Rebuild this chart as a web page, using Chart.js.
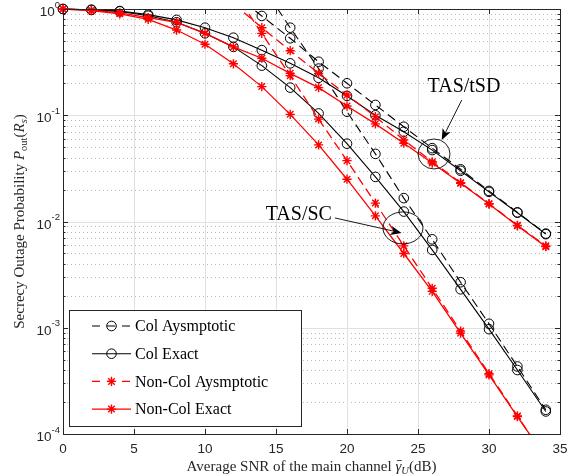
<!DOCTYPE html>
<html>
<head>
<meta charset="utf-8">
<script src="https://cdn.jsdelivr.net/npm/chart.js@4.4.0/dist/chart.umd.min.js"></script>
<style>
  html, body { margin: 0; padding: 0; background: #fff; }
</style>
</head>
<body>
<canvas id="chart" width="575" height="476"></canvas>
<script>
// SNR points (dB)
const snr = [0, 2, 4, 6, 8, 10, 12, 14, 16, 18, 20, 22, 24, 26, 28, 30, 32, 34];

// TAS/tSD curves
const tsdColExact = [1.0, 0.985, 0.957, 0.885, 0.79, 0.667, 0.537, 0.41, 0.308, 0.225, 0.152, 0.100, 0.070, 0.047, 0.030, 0.019, 0.0121, 0.0076];
const tsdColAsym = [null, null, null, null, null, null, 1.39, 0.86, 0.53, 0.319, 0.20, 0.125, 0.078, 0.049, 0.031, 0.0194, 0.0122, 0.0077];
const tsdNonColExact = [1.0, 0.975, 0.92, 0.83, 0.75, 0.59, 0.44, 0.344, 0.248, 0.182, 0.122, 0.083, 0.0545, 0.0355, 0.0229, 0.0146, 0.0091, 0.0058];
const tsdNonColAsym = [null, null, null, null, null, null, 1.12, 0.667, 0.405, 0.248, 0.155, 0.097, 0.0586, 0.0365, 0.0232, 0.0147, 0.0092, 0.0059];

// TAS/SC curves
const scColExact = [1.0, 0.98, 0.95, 0.865, 0.75, 0.59, 0.44, 0.293, 0.182, 0.104, 0.054, 0.0263, 0.0124, 0.0054, 0.0023, 0.00097, 0.0004, 0.000163];
const scColAsym = [null, null, null, null, null, null, null, 1.67, 0.667, 0.275, 0.108, 0.0433, 0.0166, 0.0068, 0.00268, 0.00109, 0.000432, 0.000169];
const scNonColExact = [1.0, 0.965, 0.90, 0.80, 0.634, 0.466, 0.305, 0.186, 0.102, 0.0526, 0.025, 0.0113, 0.005, 0.0022, 0.00089, 0.00036, 0.000146, 0.00006];
const scNonColAsym = [null, null, null, null, null, null, 1.48, 0.59, 0.236, 0.092, 0.0374, 0.0149, 0.0059, 0.00235, 0.00093, 0.00037, 0.000148, 0.000059];

// axes
const xTicks = [0, 5, 10, 15, 20, 25, 30, 35];
const yTicks = [1e-4, 1e-3, 1e-2, 1e-1, 1];
const yTickExp = ['-4', '-3', '-2', '-1', '0'];
const legendLabels = ['Col Aysmptotic', 'Col Exact', 'Non-Col Aysmptotic', 'Non-Col Exact'];

const SERIF = '"Liberation Serif", "Times New Roman", serif';
const SANS = '"Liberation Sans", Arial, sans-serif';
const AXIS = '#262626';
const RED = '#ff0000';

// minor y grid values (2..9 x 10^k)
const yMinor = [];
yTicks.slice(0, -1).forEach(d => { for (let m = 2; m <= 9; m++) yMinor.push(d * m); });

const toXY = arr => snr.map((x, i) => ({ x: x, y: arr[i] }));

function series(arr, color, dashed, marker) {
  const isStar = marker === 'star';
  return {
    data: toXY(arr),
    borderColor: color,
    borderWidth: isStar ? 1.3 : 1.1,
    borderDash: dashed ? [9, 5] : [],
    pointStyle: marker,
    pointRadius: isStar ? 4.6 : 4.8,
    pointBorderColor: color,
    pointBackgroundColor: 'rgba(0,0,0,0)',
    pointBorderWidth: isStar ? 1.4 : 1,
    tension: 0,
    spanGaps: false,
    clip: dashed ? 0 : { left: 8, top: 8, right: 0, bottom: 0 }
  };
}

function drawMarker(ctx, style, x, y, color) {
  ctx.save();
  ctx.strokeStyle = color;
  ctx.setLineDash([]);
  ctx.beginPath();
  if (style === 'circle') {
    ctx.lineWidth = 1;
    ctx.arc(x, y, 4.8, 0, Math.PI * 2);
  } else {
    ctx.lineWidth = 1.4;
    for (let k = 0; k < 4; k++) {
      const a = k * Math.PI / 4;
      ctx.moveTo(x - 4.6 * Math.cos(a), y - 4.6 * Math.sin(a));
      ctx.lineTo(x + 4.6 * Math.cos(a), y + 4.6 * Math.sin(a));
    }
  }
  ctx.stroke();
  ctx.restore();
}

function runsWidth(ctx, runs) {
  let w = 0;
  runs.forEach(r => { ctx.font = r[1]; w += ctx.measureText(r[0]).width; });
  return w;
}
function drawRuns(ctx, runs, x, y) {
  let cx = x;
  const pos = [];
  runs.forEach(r => {
    ctx.font = r[1];
    ctx.fillText(r[0], cx, y + (r[2] || 0));
    const w = ctx.measureText(r[0]).width;
    pos.push([cx, w]);
    cx += w;
  });
  return pos;
}

function arrow(ctx, x1, y1, x2, y2) {
  const ang = Math.atan2(y2 - y1, x2 - x1);
  const L = 11, W = 4.5;
  ctx.beginPath();
  ctx.moveTo(x1, y1);
  ctx.lineTo(x2 - (L - 3) * Math.cos(ang), y2 - (L - 3) * Math.sin(ang));
  ctx.stroke();
  ctx.save();
  ctx.translate(x2, y2);
  ctx.rotate(ang);
  ctx.beginPath();
  ctx.moveTo(0, 0);
  ctx.lineTo(-L, -W);
  ctx.lineTo(-L + 3, 0);
  ctx.lineTo(-L, W);
  ctx.closePath();
  ctx.fill();
  ctx.restore();
}

const matlabLook = {
  id: 'matlabLook',
  beforeDatasetsDraw(chart) {
    const { ctx, chartArea: a, scales: { x, y } } = chart;
    ctx.save();
    ctx.lineWidth = 1;
    // minor dotted grid
    ctx.strokeStyle = '#b8b8b8';
    ctx.setLineDash([1, 3]);
    yMinor.forEach(v => {
      const py = Math.round(y.getPixelForValue(v)) + 0.5;
      ctx.beginPath(); ctx.moveTo(a.left, py); ctx.lineTo(a.right, py); ctx.stroke();
    });
    // major grid
    ctx.setLineDash([]);
    ctx.strokeStyle = '#e1e1e1';
    xTicks.forEach(v => {
      const px = Math.round(x.getPixelForValue(v)) + 0.5;
      ctx.beginPath(); ctx.moveTo(px, a.top); ctx.lineTo(px, a.bottom); ctx.stroke();
    });
    yTicks.forEach(v => {
      const py = Math.round(y.getPixelForValue(v)) + 0.5;
      ctx.beginPath(); ctx.moveTo(a.left, py); ctx.lineTo(a.right, py); ctx.stroke();
    });
    ctx.restore();
  },
  afterDatasetsDraw(chart) {
    const { ctx, chartArea: a, scales: { x, y } } = chart;
    ctx.save();
    // box + inward ticks
    ctx.strokeStyle = AXIS;
    ctx.lineWidth = 1;
    ctx.strokeRect(Math.round(a.left) + 0.5, Math.round(a.top) + 0.5,
      Math.round(a.right - a.left), Math.round(a.bottom - a.top));
    ctx.beginPath();
    xTicks.forEach(v => {
      const px = Math.round(x.getPixelForValue(v)) + 0.5;
      ctx.moveTo(px, a.bottom); ctx.lineTo(px, a.bottom - 5);
      ctx.moveTo(px, a.top); ctx.lineTo(px, a.top + 5);
    });
    yTicks.forEach(v => {
      const py = Math.round(y.getPixelForValue(v)) + 0.5;
      ctx.moveTo(a.left, py); ctx.lineTo(a.left + 5, py);
      ctx.moveTo(a.right, py); ctx.lineTo(a.right - 5, py);
    });
    yMinor.forEach(v => {
      const py = Math.round(y.getPixelForValue(v)) + 0.5;
      ctx.moveTo(a.left, py); ctx.lineTo(a.left + 2.5, py);
      ctx.moveTo(a.right, py); ctx.lineTo(a.right - 2.5, py);
    });
    ctx.stroke();

    // y tick labels 10^k
    ctx.fillStyle = AXIS;
    ctx.textBaseline = 'middle';
    ctx.textAlign = 'left';
    yTicks.forEach((v, i) => {
      const py = y.getPixelForValue(v);
      ctx.font = '9.5px ' + SANS;
      const ws = ctx.measureText(yTickExp[i]).width;
      ctx.font = '13.5px ' + SANS;
      const wb = ctx.measureText('10').width;
      const right = a.left - 3;
      ctx.fillText('10', right - ws - wb, py + 3.5);
      ctx.font = '9.5px ' + SANS;
      ctx.fillText(yTickExp[i], right - ws, py - 4);
    });

    // axis titles
    ctx.fillStyle = AXIS;
    ctx.textBaseline = 'alphabetic';
    const f = '15px ' + SERIF, fi = 'italic 15px ' + SERIF;
    const fs = '10.5px ' + SERIF, fsi = 'italic 10.5px ' + SERIF;
    const xRuns = [['Average SNR of the main channel ', f], ['\u03b3', fi], ['U', fsi, 3], ['(dB)', f]];
    const xw = runsWidth(ctx, xRuns);
    const pos = drawRuns(ctx, xRuns, (a.left + a.right) / 2 - xw / 2, 471);
    ctx.lineWidth = 0.8;
    ctx.beginPath();
    ctx.moveTo(pos[1][0] + 1.5, 471 - 10.5);
    ctx.lineTo(pos[1][0] + pos[1][1] + 0.5, 471 - 10.5);
    ctx.stroke();

    const yRuns = [['Secrecy Outage Probability ', f], ['P', fi], ['out', fs, 3], ['(', f], ['R', fi], ['s', fsi, 3], [')', f]];
    const yw = runsWidth(ctx, yRuns);
    ctx.save();
    ctx.translate(24, (a.top + a.bottom) / 2);
    ctx.rotate(-Math.PI / 2);
    drawRuns(ctx, yRuns, -yw / 2, 0);
    ctx.restore();

    // legend
    const lx = 69.5, ly = 310.5, lw = 232, lh = 116;
    ctx.fillStyle = '#fff';
    ctx.fillRect(lx, ly, lw, lh);
    ctx.strokeStyle = AXIS;
    ctx.lineWidth = 1;
    ctx.strokeRect(lx, ly, lw, lh);
    const legendDs = [chart.data.datasets[5], chart.data.datasets[4], chart.data.datasets[1], chart.data.datasets[0]];
    ctx.font = '16px ' + SERIF;
    ctx.textBaseline = 'middle';
    legendDs.forEach((ds, i) => {
      const ry = 326 + i * 27.7;
      ctx.strokeStyle = ds.borderColor;
      ctx.lineWidth = ds.borderWidth;
      ctx.setLineDash(ds.borderDash.length ? [8, 7] : []);
      ctx.beginPath(); ctx.moveTo(92, ry); ctx.lineTo(131, ry); ctx.stroke();
      ctx.setLineDash([]);
      drawMarker(ctx, ds.pointStyle, 111.5, ry, ds.borderColor);
      ctx.fillStyle = '#000';
      ctx.fillText(legendLabels[i], 135, ry + 1);
    });

    // annotations
    ctx.strokeStyle = '#000';
    ctx.fillStyle = '#000';
    ctx.lineWidth = 0.9;
    const P = (xv, yv) => [x.getPixelForValue(xv), y.getPixelForValue(yv)];
    let c = P(26.13, 0.0432);
    ctx.beginPath(); ctx.ellipse(c[0], c[1], 16, 15, 0, 0, Math.PI * 2); ctx.stroke();
    c = P(23.94, 0.0087);
    ctx.beginPath(); ctx.ellipse(c[0], c[1], 20, 16, 0, 0, Math.PI * 2); ctx.stroke();
    let p1 = P(28.08, 0.139), p2 = P(26.67, 0.0586);
    arrow(ctx, p1[0], p1[1], p2[0], p2[1]);
    p1 = P(19.15, 0.0108); p2 = P(23.84, 0.00781);
    arrow(ctx, p1[0], p1[1], p2[0], p2[1]);
    ctx.font = '20px ' + SERIF;
    ctx.textBaseline = 'middle';
    ctx.textAlign = 'center';
    let t = P(28.24, 0.1846);
    ctx.fillText('TAS/tSD', t[0], t[1]);
    ctx.textAlign = 'right';
    t = P(18.94, 0.01153);
    ctx.fillText('TAS/SC', t[0], t[1]);
    ctx.restore();
  }
};

new Chart(document.getElementById('chart'), {
  type: 'line',
  data: {
    datasets: [
      series(tsdNonColExact, RED, false, 'star'),
      series(tsdNonColAsym, RED, true, 'star'),
      series(scNonColExact, RED, false, 'star'),
      series(scNonColAsym, RED, true, 'star'),
      series(tsdColExact, '#000', false, 'circle'),
      series(tsdColAsym, '#000', true, 'circle'),
      series(scColExact, '#000', false, 'circle'),
      series(scColAsym, '#000', true, 'circle')
    ]
  },
  options: {
    responsive: false,
    animation: false,
    events: [],
    layout: { padding: { left: 0, right: 15, top: 9, bottom: 0 } },
    plugins: { legend: { display: false }, tooltip: { enabled: false } },
    scales: {
      x: {
        type: 'linear',
        min: 0,
        max: 35,
        ticks: { stepSize: 5, color: AXIS, font: { family: SANS, size: 13.5 }, padding: 7, maxRotation: 0 },
        grid: { display: false, drawTicks: false },
        border: { display: false },
        afterFit: s => { s.height = 42; }
      },
      y: {
        type: 'logarithmic',
        min: 1e-4,
        max: 1,
        ticks: { display: false },
        grid: { display: false, drawTicks: false },
        border: { display: false },
        afterFit: s => { s.width = 63; }
      }
    }
  },
  plugins: [matlabLook]
});
</script>
</body>
</html>
